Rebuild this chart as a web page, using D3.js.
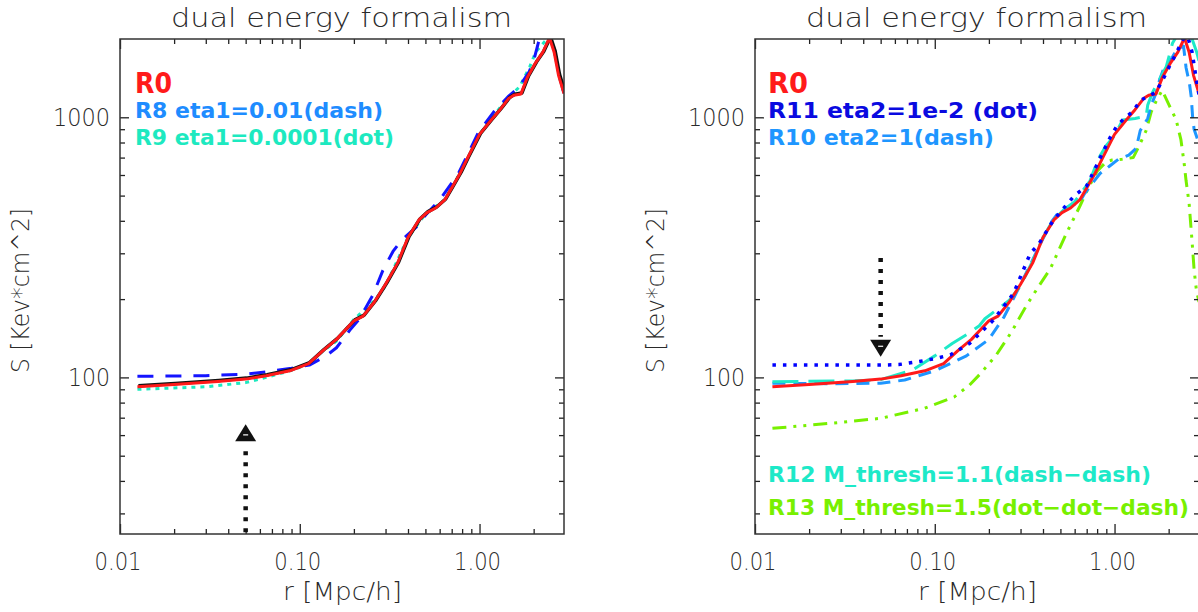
<!DOCTYPE html>
<html>
<head>
<meta charset="utf-8">
<script src="https://cdn.jsdelivr.net/npm/d3@7"></script>
<style>
  html, body { margin: 0; padding: 0; background: #fff; }
  svg { display: block; }
  .lbl { font-family: "DejaVu Sans", "Liberation Sans", sans-serif; fill: #2a2a2a; font-weight: 300; }
  .leg { font-family: "DejaVu Sans", "Liberation Sans", sans-serif; font-weight: bold; }
</style>
</head>
<body>
<svg id="chart" width="1198" height="612"></svg>
<script>
// ---- data: radius r [Mpc/h] and entropy S [keV cm^2] per run ----
const r0R  = [0.0125, 0.02, 0.035, 0.05, 0.065, 0.088, 0.112, 0.135, 0.16, 0.2, 0.225, 0.26, 0.3, 0.35, 0.4, 0.46, 0.51, 0.57, 0.64, 0.7, 0.78, 0.86, 1.0, 1.16, 1.3, 1.45, 1.55, 1.7, 1.85, 2.05, 2.25, 2.45, 2.6, 2.75, 2.95];
const r0S  = [92, 94, 96.5, 98.5, 101.5, 106, 113, 127, 140, 165, 172, 195, 228, 275, 345, 403, 430, 448, 481, 535, 610, 700, 860, 975, 1070, 1180, 1215, 1230, 1430, 1620, 1780, 2020, 1780, 1450, 1235];

const r8R  = [0.0125, 0.03, 0.05, 0.065, 0.09, 0.113, 0.14, 0.16, 0.19, 0.215, 0.255, 0.29, 0.33, 0.367, 0.446, 0.5, 0.6, 0.764, 0.98, 1.2, 1.44, 1.65, 1.89, 2.0, 2.13, 2.3, 2.55, 2.7, 2.85, 2.95];
const r8S  = [101, 101.5, 103, 105, 108.5, 111.5, 121, 130, 152, 168, 207, 258, 305, 336, 379, 420, 481, 609, 868, 1050, 1200, 1300, 1500, 1650, 1950, 2200, 1990, 1600, 1350, 1240];

const r9R  = [0.0125, 0.03, 0.05, 0.065, 0.09, 0.11, 0.13, 0.16, 0.2, 0.26, 0.3, 0.4, 0.5, 0.64, 0.8, 1.0, 1.3, 1.5, 1.67, 1.9, 2.05, 2.3, 2.45, 2.6, 2.8, 2.95];
const r9S  = [90, 92, 95.5, 100, 106.5, 112, 124, 138, 167, 197, 225, 345, 425, 481, 630, 860, 1090, 1220, 1310, 1560, 1780, 1950, 2050, 1800, 1400, 1240];

const r11R = [0.0125, 0.03, 0.05, 0.063, 0.08, 0.1, 0.122, 0.156, 0.21, 0.274, 0.34, 0.376, 0.458, 0.594, 0.7, 0.84, 0.95, 1.03, 1.13, 1.26, 1.4, 1.53, 1.7, 1.89, 2.02, 2.2, 2.4, 2.55, 2.7, 2.85, 2.95];
const r11S = [111.5, 111.5, 111.5, 112, 114.8, 118, 122, 135, 165, 210, 300, 323, 403, 497, 545, 708, 842, 925, 990, 1050, 1165, 1200, 1250, 1430, 1570, 1760, 1990, 2050, 1780, 1400, 1220];

const r10R = [0.0125, 0.028, 0.05, 0.068, 0.1, 0.15, 0.2, 0.243, 0.274, 0.33, 0.395, 0.45, 0.5, 0.64, 0.68, 0.83, 0.94, 1.05, 1.2, 1.32, 1.39, 1.53, 1.6, 1.71, 1.78, 1.89, 2.03, 2.2, 2.42, 2.5, 2.61, 2.67, 2.72, 2.77, 2.9, 2.95];
const r10S = [95, 94.5, 95, 97.7, 106, 121, 140, 171, 201, 260, 336, 400, 440, 472, 508, 608, 650, 690, 715, 760, 890, 990, 1115, 1250, 1390, 1565, 1640, 1800, 1880, 1550, 1350, 1200, 1000, 900, 820, 800];

const r12R = [0.0125, 0.036, 0.05, 0.075, 0.1, 0.125, 0.15, 0.177, 0.19, 0.26, 0.3, 0.35, 0.4, 0.45, 0.52, 0.6, 0.73, 0.81, 0.9, 1.0, 1.11, 1.3, 1.5, 1.53, 1.63, 1.94, 2.1, 2.3, 2.5, 2.7, 2.85, 2.95];
const r12S = [96.2, 97, 98, 106.7, 121, 135, 146, 158, 168, 198, 225, 280, 345, 397, 440, 474, 570, 690, 780, 850, 976, 990, 1010, 1115, 1250, 1565, 1925, 2150, 2200, 2000, 1800, 1650];

const r13R = [0.0125, 0.0257, 0.05, 0.0874, 0.128, 0.156, 0.18, 0.22, 0.268, 0.325, 0.38, 0.44, 0.54, 0.64, 0.71, 0.8, 0.9, 0.97, 1.1, 1.27, 1.35, 1.5, 1.6, 1.7, 1.84, 2.03, 2.2, 2.34, 2.44, 2.5, 2.6, 2.67, 2.72, 2.77, 2.85, 2.95];
const r13S = [63.7, 66.5, 69.6, 76, 84, 93.4, 103.6, 122, 150, 190, 225, 262, 358, 454, 530, 620, 675, 685, 690, 700, 760, 890, 1050, 1150, 1270, 1100, 980, 820, 664, 570, 466, 367, 310, 260, 218, 195];

// axis ticks
const xMajor = [0.01, 0.1, 1];
const xMajorLabels = ["0.01", "0.10", "1.00"];
const xMinor = [0.02, 0.03, 0.04, 0.05, 0.06, 0.07, 0.08, 0.09, 0.2, 0.3, 0.4, 0.5, 0.6, 0.7, 0.8, 0.9, 2];
const yMajor = [100, 1000];
const yMajorLabels = ["100", "1000"];
const yMinor = [30, 40, 50, 60, 70, 80, 90, 200, 300, 400, 500, 600, 700, 800, 900];

// arrows marking r = 0.05 Mpc/h
const arrowLeft  = { r: 0.05, from: 25.4, to: 66 };
const arrowRight = { r: 0.05, from: 288, to: 120 };

const zip = (R, S) => R.map((r, i) => ({ r, s: S[i] }));

const svg = d3.select("#chart");
const plotW = 444, plotTop = 39, plotBottom = 534;

const panels = [
  {
    x0: 120,
    series: [
      { d: zip(r9R, r9S),  color: "#1de9c0", width: 3,   dash: "4,5" },
      { d: zip(r8R, r8S),  color: "#1414ff", width: 3,   dash: "16,12" },
      { d: zip(r0R, r0S),  color: "#111",    width: 3.5, dash: null, shift: [1, -1] },
      { d: zip(r0R, r0S),  color: "#ff1a1a", width: 3,   dash: null }
    ],
    legend: [
      { t: "R0", color: "#ff1a1a", x: 135, y: 93, size: 29, len: 37, weight: "normal" },
      { t: "R8 eta1=0.01(dash)", color: "#1e8cff", x: 135, y: 118, size: 21, len: 248 },
      { t: "R9 eta1=0.0001(dot)", color: "#1de9c0", x: 135, y: 145, size: 21, len: 259 }
    ],
    arrow: arrowLeft, up: true
  },
  {
    x0: 755,
    series: [
      { d: zip(r13R, r13S), color: "#78f000", width: 3,   dash: "14,7,3,7,3,7" },
      { d: zip(r10R, r10S), color: "#1e96ff", width: 3,   dash: "13,8" },
      { d: zip(r12R, r12S), color: "#1de9c8", width: 3,   dash: "26,10" },
      { d: zip(r0R, r0S),   color: "#ff1a1a", width: 3,   dash: null },
      { d: zip(r11R, r11S), color: "#0000ff", width: 3.5, dash: "3.5,7" }
    ],
    legend: [
      { t: "R0", color: "#ff1a1a", x: 768, y: 93, size: 29, len: 40, weight: "normal" },
      { t: "R11 eta2=1e-2 (dot)", color: "#0a0ae0", x: 768, y: 118, size: 21, len: 270 },
      { t: "R10 eta2=1(dash)", color: "#1e96ff", x: 768, y: 145, size: 21, len: 226 },
      { t: "R12 M_thresh=1.1(dash\u2212dash)", color: "#1de9c8", x: 768, y: 482, size: 21, len: 383 },
      { t: "R13 M_thresh=1.5(dot\u2212dot\u2212dash)", color: "#78f000", x: 768, y: 515, size: 21, len: 421 }
    ],
    arrow: arrowRight, up: false
  }
];

panels.forEach((p, pi) => {
  const x = d3.scaleLog().domain([0.01, 2.95]).range([p.x0, p.x0 + plotW]);
  const y = d3.scaleLog().domain([25, 2000]).range([plotBottom, plotTop]);
  const g = svg.append("g");

  const clipId = "clip" + pi;
  svg.append("defs").append("clipPath").attr("id", clipId)
    .append("rect").attr("x", p.x0).attr("y", plotTop).attr("width", plotW).attr("height", plotBottom - plotTop);

  // curves
  const line = d3.line().x(d => x(d.r)).y(d => y(d.s)).curve(d3.curveLinear);
  const cg = g.append("g").attr("clip-path", `url(#${clipId})`);
  p.series.forEach(s => {
    cg.append("path")
      .attr("d", line(s.d))
      .attr("fill", "none")
      .attr("stroke", s.color)
      .attr("stroke-width", s.width)
      .attr("stroke-linejoin", "round")
      .attr("stroke-dasharray", s.dash)
      .attr("transform", s.shift ? `translate(${s.shift[0]},${s.shift[1]})` : null);
  });

  // axes: ticks point inward on all four sides
  const axisStyle = sel => {
    sel.select(".domain").remove();
    sel.selectAll(".tick line").attr("stroke", "#222").attr("stroke-width", 1.3);
    sel.selectAll(".tick text").remove();
  };
  const mk = (axis, scale, vals, size) => axis(scale).tickValues(vals).tickSize(size).tickFormat("");
  g.append("g").attr("transform", `translate(0,${plotBottom})`).call(mk(d3.axisBottom, x, xMajor, -10)).call(axisStyle);
  g.append("g").attr("transform", `translate(0,${plotBottom})`).call(mk(d3.axisBottom, x, xMinor, -5)).call(axisStyle);
  g.append("g").attr("transform", `translate(0,${plotTop})`).call(mk(d3.axisTop, x, xMajor, -10)).call(axisStyle);
  g.append("g").attr("transform", `translate(0,${plotTop})`).call(mk(d3.axisTop, x, xMinor, -5)).call(axisStyle);
  g.append("g").attr("transform", `translate(${p.x0},0)`).call(mk(d3.axisLeft, y, yMajor, -9)).call(axisStyle);
  g.append("g").attr("transform", `translate(${p.x0},0)`).call(mk(d3.axisLeft, y, yMinor, -5)).call(axisStyle);
  g.append("g").attr("transform", `translate(${p.x0 + plotW},0)`).call(mk(d3.axisRight, y, yMajor, -9)).call(axisStyle);
  g.append("g").attr("transform", `translate(${p.x0 + plotW},0)`).call(mk(d3.axisRight, y, yMinor, -5)).call(axisStyle);

  g.append("rect")
    .attr("x", p.x0).attr("y", plotTop).attr("width", plotW).attr("height", plotBottom - plotTop)
    .attr("fill", "none").attr("stroke", "#333").attr("stroke-width", 1.5);

  // tick labels
  xMajor.forEach((v, i) => {
    g.append("text").attr("class", "lbl")
      .attr("x", x(v) - 2).attr("y", 570)
      .attr("text-anchor", "middle").attr("font-size", 24)
      .attr("textLength", 47).attr("lengthAdjust", "spacingAndGlyphs")
      .text(xMajorLabels[i]);
  });
  yMajor.forEach((v, i) => {
    const lab = yMajorLabels[i];
    const w = lab.length === 4 ? 57 : 42;
    g.append("text").attr("class", "lbl")
      .attr("x", p.x0 - 10 - w).attr("y", y(v) + 9)
      .attr("font-size", 24)
      .attr("textLength", w).attr("lengthAdjust", "spacingAndGlyphs")
      .text(lab);
  });

  // title and axis titles
  g.append("text").attr("class", "lbl")
    .attr("x", p.x0 + 51).attr("y", 27)
    .attr("font-size", 26)
    .attr("textLength", 341).attr("lengthAdjust", "spacingAndGlyphs")
    .text("dual energy formalism");
  g.append("text").attr("class", "lbl")
    .attr("x", p.x0 + 163).attr("y", 600)
    .attr("font-size", 25)
    .attr("textLength", 119).attr("lengthAdjust", "spacingAndGlyphs")
    .text("r [Mpc/h]");
  g.append("text").attr("class", "lbl")
    .attr("transform", `translate(${p.x0 - 91},373) rotate(-90)`)
    .attr("font-size", 24)
    .attr("textLength", 165).attr("lengthAdjust", "spacingAndGlyphs")
    .text("S [Kev*cm^2]");

  // legend
  p.legend.forEach(l => {
    g.append("text").attr("class", "leg")
      .attr("x", l.x).attr("y", l.y)
      .attr("font-size", l.size)
      .attr("font-weight", l.weight || "bold")
      .attr("fill", l.color)
      .attr("textLength", l.len).attr("lengthAdjust", "spacingAndGlyphs")
      .text(l.t);
  });

  // arrow at r = 0.05
  const a = p.arrow;
  const ax = x(a.r);
  const yTail = y(a.from), yTip = y(a.to);
  const dir = p.up ? 1 : -1;          // +1: tip above tail
  const headH = 17, headW = 21;
  const yBase = yTip + dir * headH;
  g.append("line")
    .attr("x1", ax).attr("x2", ax)
    .attr("y1", yTail).attr("y2", yBase + dir * 3)
    .attr("stroke", "#111").attr("stroke-width", 4.5)
    .attr("stroke-dasharray", "4,7");
  g.append("path")
    .attr("d", `M${ax},${yTip} L${ax - headW / 2},${yBase} L${ax + headW / 2},${yBase} Z`)
    .attr("fill", "#111");
  g.append("line")
    .attr("x1", ax - 2.5).attr("x2", ax + 2.5)
    .attr("y1", yTip + dir * headH * 0.62).attr("y2", yTip + dir * headH * 0.62)
    .attr("stroke", "#fff").attr("stroke-width", 1.2);
});
</script>
</body>
</html>
